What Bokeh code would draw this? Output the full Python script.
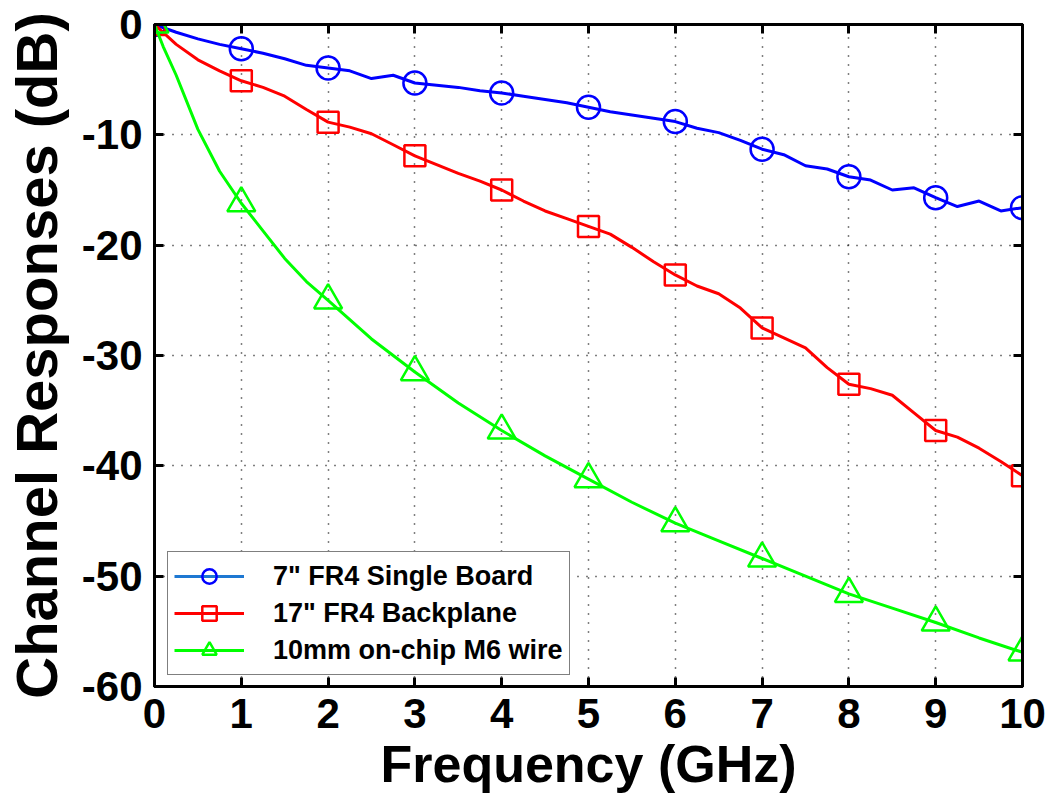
from bokeh.plotting import figure
from bokeh.models import (Range1d, LinearAxis, Legend, LegendItem, FixedTicker,
                          CustomJSTickFormatter)
from bokeh.embed import file_html
from bokeh.resources import INLINE
import math

# ---- data ----
freq = [0, 0.25, 0.5, 0.75, 1.0, 1.25, 1.5, 1.75, 2.0, 2.25, 2.5, 2.75, 3.0, 3.25, 3.5, 3.75,
        4.0, 4.25, 4.5, 4.75, 5.0, 5.25, 5.5, 5.75, 6.0, 6.25, 6.5, 6.75, 7.0, 7.25, 7.5, 7.75,
        8.0, 8.25, 8.5, 8.75, 9.0, 9.25, 9.5, 9.75, 10.0]
fr4_single = [0, -0.7, -1.3, -1.8, -2.2, -2.6, -3.1, -3.7, -3.95, -4.2, -4.9, -4.6, -5.3, -5.5, -5.7, -6.0,
              -6.2, -6.5, -6.8, -7.1, -7.5, -7.9, -8.2, -8.5, -8.8, -9.4, -9.8, -10.5, -11.3, -11.8, -12.8, -13.1,
              -13.8, -14.1, -15.0, -14.8, -15.7, -16.5, -16.0, -16.9, -16.6]
fr4_backplane = [0, -1.8, -3.2, -4.2, -5.1, -5.7, -6.5, -7.7, -8.85, -9.3, -9.9, -10.9, -11.9, -12.7, -13.5, -14.2,
                 -15.0, -16.0, -16.9, -17.6, -18.3, -19.0, -20.2, -21.5, -22.7, -23.7, -24.4, -25.7, -27.5, -28.4, -29.3, -31.1,
                 -32.6, -33.0, -33.6, -35.2, -36.8, -37.4, -38.4, -39.6, -40.9]
freq_wire = [0, 0.1, 0.25, 0.5, 0.75, 1, 1.25, 1.5, 1.75, 2, 2.5, 3, 3.5, 4, 4.5, 5, 5.5, 6, 6.5, 7,
             7.5, 8, 8.5, 9, 9.5, 10]
onchip_wire = [0, -2.0, -4.6, -9.5, -13.3, -16.2, -18.7, -21.2, -23.3, -25.0, -28.5, -31.5, -34.3, -36.8,
               -39.1, -41.2, -43.3, -45.2, -46.8, -48.4, -50.0, -51.6, -52.9, -54.2, -55.6, -56.9]

marker_freq = [0, 1, 2, 3, 4, 5, 6, 7, 8, 9, 10]
fr4_single_m = [0, -2.2, -3.95, -5.3, -6.2, -7.5, -8.8, -11.3, -13.8, -15.7, -16.6]
fr4_backplane_m = [0, -5.1, -8.85, -11.9, -15.0, -18.3, -22.7, -27.5, -32.6, -36.8, -40.9]
onchip_wire_m = [0, -16.2, -25.0, -31.5, -36.8, -41.2, -45.2, -48.4, -51.6, -54.2, -56.9]

labels = ['7" FR4 Single Board', '17" FR4 Backplane', '10mm on-chip M6 wire']
x_ticks = list(range(0, 11))
y_ticks = [0, -10, -20, -30, -40, -50, -60]

FONT = "Liberation Sans"
BLUE = "#0000FF"
RED = "#FF0000"
GREEN = "#00FF00"

p = figure(width=1046, height=799, output_backend="svg", toolbar_location=None,
           x_range=Range1d(0, 10), y_range=Range1d(-60, 0),
           min_border_left=152, min_border_right=24, min_border_top=24, min_border_bottom=113)
p.background_fill_color = "white"
p.border_fill_color = "white"
p.outline_line_color = "black"
p.outline_line_width = 3

# grid
for g in (p.xgrid, p.ygrid):
    g.grid_line_color = "black"
    g.grid_line_dash = "1 8"
    g.grid_line_width = 1.5
p.xgrid.ticker = FixedTicker(ticks=x_ticks)
p.ygrid.ticker = FixedTicker(ticks=y_ticks)

fmt = CustomJSTickFormatter(code="return tick.toFixed(0);")

# axes
for ax in (p.xaxis[0], p.yaxis[0]):
    ax.axis_line_width = 3
    ax.major_tick_line_width = 3
    ax.major_tick_in = 9
    ax.major_tick_out = 0
    ax.minor_tick_line_color = None
    ax.formatter = fmt
    ax.major_label_text_font = FONT
    ax.major_label_text_font_style = "bold"
    ax.major_label_text_font_size = "42px"
    ax.major_label_text_color = "black"
    ax.axis_label_text_font = FONT
    ax.axis_label_text_font_style = "bold"
    ax.axis_label_text_color = "black"
p.xaxis[0].ticker = FixedTicker(ticks=x_ticks)
p.yaxis[0].ticker = FixedTicker(ticks=y_ticks)
p.xaxis[0].axis_label = "Frequency (GHz)"
p.yaxis[0].axis_label = "Channel Responses (dB)"
p.xaxis[0].axis_label_text_font_size = "52px"
p.yaxis[0].axis_label_text_font_size = "58px"
p.xaxis[0].major_label_standoff = 12
p.yaxis[0].major_label_standoff = 12
p.xaxis[0].axis_label_standoff = 4
p.yaxis[0].axis_label_standoff = 10

top_ax = LinearAxis(ticker=FixedTicker(ticks=x_ticks), major_label_text_color=None,
                    major_tick_in=9, major_tick_out=0, major_tick_line_width=3,
                    axis_line_width=3, minor_tick_line_color=None)
right_ax = LinearAxis(ticker=FixedTicker(ticks=y_ticks), major_label_text_color=None,
                      major_tick_in=9, major_tick_out=0, major_tick_line_width=3,
                      axis_line_width=3, minor_tick_line_color=None)
p.add_layout(top_ax, "above")
p.add_layout(right_ax, "right")

# series
b_line = p.line(freq, fr4_single, line_color=BLUE, line_width=3)
b_mk = p.scatter(marker_freq, fr4_single_m, marker="circle", size=23, fill_color=None,
                 line_color=BLUE, line_width=2.5)
r_line = p.line(freq, fr4_backplane, line_color=RED, line_width=3)
r_mk = p.scatter(marker_freq, fr4_backplane_m, marker="square", size=21, fill_color=None,
                 line_color=RED, line_width=2.5)
g_line = p.line(freq_wire, onchip_wire, line_color=GREEN, line_width=3)
g_mk = p.scatter(marker_freq, onchip_wire_m, marker="triangle", size=28, fill_color=None,
                 line_color=GREEN, line_width=2.5)

# legend-only line for the first entry (slightly lighter blue as in the reference)
b_leg = p.line([math.nan], [math.nan], line_color="#1E78D2", line_width=3)

legend = Legend(items=[LegendItem(label=labels[0], renderers=[b_leg, b_mk]),
                       LegendItem(label=labels[1], renderers=[r_line, r_mk]),
                       LegendItem(label=labels[2], renderers=[g_line, g_mk])],
                location=(13, 11))
legend.label_text_font = FONT
legend.label_text_font_style = "bold"
legend.label_text_font_size = "27px"
legend.label_text_color = "black"
legend.glyph_width = 70
legend.glyph_height = 36
legend.label_height = 36
legend.label_standoff = 29
legend.spacing = 1
legend.padding = 6
legend.margin = 0
legend.border_line_color = "black"
legend.border_line_width = 1.5
legend.background_fill_color = "white"
legend.background_fill_alpha = 1.0
p.add_layout(legend)

open("out.html", "w").write(file_html(p, INLINE))
